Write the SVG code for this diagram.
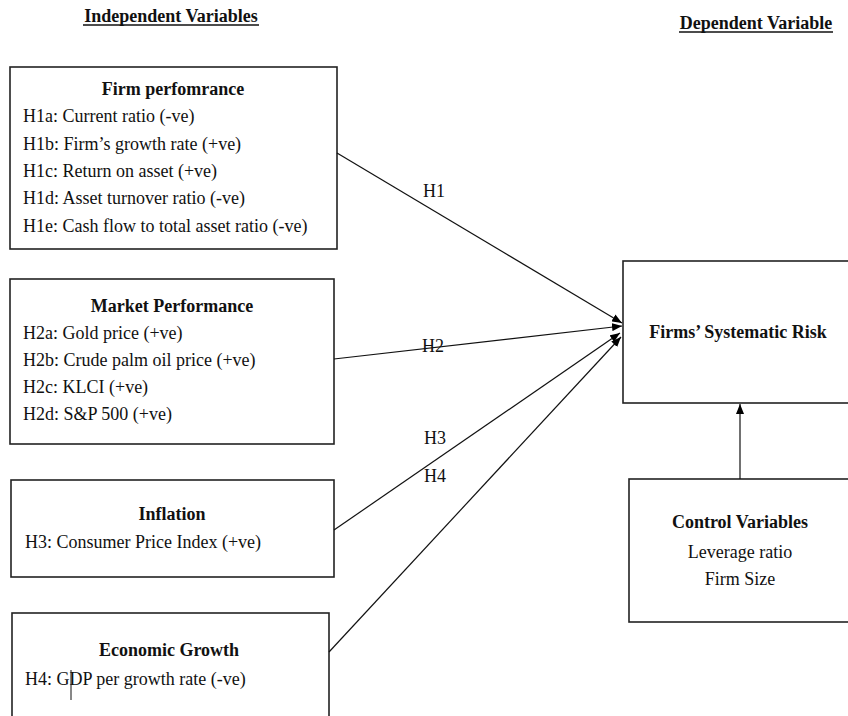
<svg xmlns="http://www.w3.org/2000/svg" width="848" height="716" viewBox="0 0 848 716">
<defs>
<style>
text{font-family:"Liberation Serif","Times New Roman",serif;font-size:18px;fill:#111}
.b{font-weight:bold}
.c{text-anchor:middle}
.box{fill:none;stroke:#222;stroke-width:1.6}
.ln{stroke:#111;stroke-width:1.2;fill:none}
.ul{stroke:#111;stroke-width:1.3}
</style>
<marker id="ah" viewBox="0 0 10 8" refX="10" refY="4" markerWidth="10" markerHeight="8" markerUnits="userSpaceOnUse" orient="auto">
<path d="M0,0 L10,4 L0,8 z" fill="#000"/>
</marker>
</defs>
<rect width="848" height="716" fill="#fff"/>
<g id="headers">
<text class="b c" x="171" y="22">Independent Variables</text>
<line class="ul" x1="83" y1="25" x2="259" y2="25"/>
<text class="b c" x="756" y="29">Dependent Variable</text>
<line class="ul" x1="679" y1="32" x2="833" y2="32"/>
</g>
<g id="firm-performance">
<rect class="box" x="10" y="67" width="327" height="182"/>
<text class="b c" x="173" y="95">Firm perfomrance</text>
<text x="23" y="122">H1a: Current ratio (-ve)</text>
<text x="23" y="150">H1b: Firm’s growth rate (+ve)</text>
<text x="23" y="177">H1c: Return on asset (+ve)</text>
<text x="23" y="204">H1d: Asset turnover ratio (-ve)</text>
<text x="23" y="232">H1e: Cash flow to total asset ratio (-ve)</text>
</g>
<g id="market-performance">
<rect class="box" x="10" y="279" width="324" height="165"/>
<text class="b c" x="172" y="312">Market Performance</text>
<text x="23" y="339">H2a: Gold price (+ve)</text>
<text x="23" y="366">H2b: Crude palm oil price (+ve)</text>
<text x="23" y="393">H2c: KLCI (+ve)</text>
<text x="23" y="420">H2d: S&amp;P 500 (+ve)</text>
</g>
<g id="inflation">
<rect class="box" x="11" y="480" width="323" height="97"/>
<text class="b c" x="172" y="520">Inflation</text>
<text x="25" y="548">H3: Consumer Price Index (+ve)</text>
</g>
<g id="economic-growth">
<rect class="box" x="12" y="613" width="317" height="120"/>
<text class="b c" x="169" y="656">Economic Growth</text>
<text x="25" y="685">H4: GDP per growth rate (-ve)</text>
<line x1="71" y1="670" x2="71" y2="700" stroke="#111" stroke-width="1"/>
</g>
<g id="systematic-risk">
<rect class="box" x="623" y="261" width="240" height="142"/>
<text class="b c" x="738" y="338">Firms’ Systematic Risk</text>
</g>
<g id="control-variables">
<rect class="box" x="629" y="479" width="240" height="143"/>
<text class="b c" x="740" y="528">Control Variables</text>
<text class="c" x="740" y="558">Leverage ratio</text>
<text class="c" x="740" y="585">Firm Size</text>
</g>
<g id="connectors">
<line class="ln" x1="337" y1="153" x2="622" y2="323" marker-end="url(#ah)"/>
<line class="ln" x1="334" y1="359" x2="622" y2="326" marker-end="url(#ah)"/>
<line class="ln" x1="334" y1="530" x2="620" y2="333" marker-end="url(#ah)"/>
<line class="ln" x1="329" y1="652" x2="621" y2="337" marker-end="url(#ah)"/>
<line class="ln" x1="740" y1="479" x2="740" y2="404" marker-end="url(#ah)"/>
<text x="423" y="197">H1</text>
<text x="422" y="352">H2</text>
<text x="424" y="444">H3</text>
<text x="424" y="482">H4</text>
</g>
</svg>
